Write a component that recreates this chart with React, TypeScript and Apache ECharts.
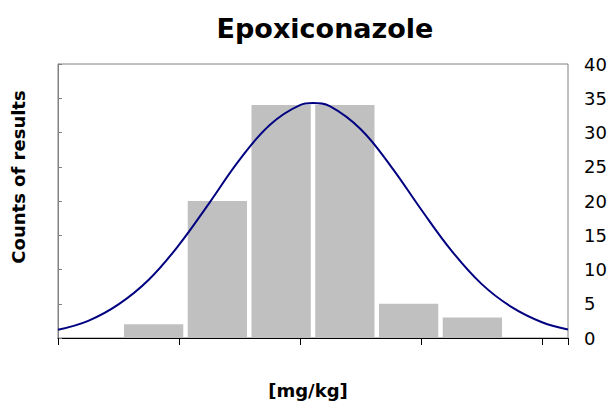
import React, { useEffect, useRef } from "react";
import * as echarts from "echarts";

const titleText = "Epoxiconazole";
const yAxisName = "Counts of results";
const xAxisName = "[mg/kg]";

const binCategories = ["b0", "b1", "b2", "b3", "b4", "b5", "b6", "b7"];
const binCounts: (number | string)[] = ["-", 2, 20, 34, 34, 5, 3, "-"];

const curveX = [0, 0.25, 0.5, 0.75, 1, 1.25, 1.5, 1.75, 2, 2.107, 2.25, 2.5, 2.75, 3, 3.25, 3.5, 3.75, 4, 4.215];
const curveY = [1.2, 2.5, 4.9, 8.5, 13.6, 19.7, 26.0, 31.1, 34.0, 34.3, 33.8, 30.5, 25.1, 18.8, 12.8, 7.9, 4.5, 2.3, 1.25];

const yTicks = { min: 0, max: 40, interval: 5 };

export default function App() {
  const ref = useRef<HTMLDivElement>(null);
  useEffect(() => {
    if (!ref.current) return;
    const chart = echarts.init(ref.current, undefined, { renderer: "svg" });
    const font = "DejaVu Sans, Verdana, sans-serif";
    chart.setOption({
      animation: false,
      backgroundColor: "#ffffff",
      textStyle: { fontFamily: font },
      title: {
        text: titleText,
        left: 320,
        top: 10,
        textAlign: "center",
        textStyle: { fontFamily: font, fontSize: 27, fontWeight: "bold", color: "#000" },
      },
      grid: {
        left: 58,
        right: 47,
        top: 64,
        bottom: 65,
        show: true,
        borderColor: "#808080",
        borderWidth: 1,
        containLabel: false,
      },
      xAxis: [
        {
          type: "category",
          position: "top",
          data: binCategories,
          show: false,
        },
        {
          type: "value",
          position: "bottom",
          min: 0,
          max: 4.215,
          interval: 1,
          axisLine: { show: true, lineStyle: { color: "#000", width: 1 } },
          axisTick: { show: true, length: 7, lineStyle: { color: "#000", width: 1 } },
          axisLabel: { show: false },
          splitLine: { show: false },
        },
      ],
      yAxis: {
        type: "value",
        position: "right",
        min: yTicks.min,
        max: yTicks.max,
        interval: yTicks.interval,
        axisLine: { show: true, lineStyle: { color: "#808080", width: 1 } },
        axisTick: { show: true, length: 4, lineStyle: { color: "#808080" } },
        axisLabel: { color: "#000", fontSize: 18, fontFamily: font, margin: 16 },
        splitLine: { show: false },
      },
      series: [
        {
          type: "bar",
          xAxisIndex: 0,
          yAxisIndex: 0,
          data: binCounts,
          barCategoryGap: "7%",
          itemStyle: { color: "#C0C0C0" },
        },
        {
          type: "line",
          xAxisIndex: 1,
          yAxisIndex: 0,
          data: curveX.map((x, i) => [x, curveY[i]]),
          smooth: 0.4,
          showSymbol: false,
          lineStyle: { color: "#000080", width: 2 },
        },
      ],
      graphic: [
        {
          type: "text",
          x: 18,
          y: 177,
          rotation: Math.PI / 2,
          style: {
            text: yAxisName,
            font: `bold 18px ${font}`,
            fill: "#000",
            textAlign: "center",
            textVerticalAlign: "middle",
          },
        },
        {
          type: "text",
          x: 308,
          y: 390,
          style: {
            text: xAxisName,
            font: `bold 18px ${font}`,
            fill: "#000",
            textAlign: "center",
            textVerticalAlign: "middle",
          },
        },
      ],
    });
    return () => chart.dispose();
  }, []);
  return (
    <div
      ref={ref}
      style={{ position: "absolute", left: 0, top: 0, width: 615, height: 403 }}
    />
  );
}
